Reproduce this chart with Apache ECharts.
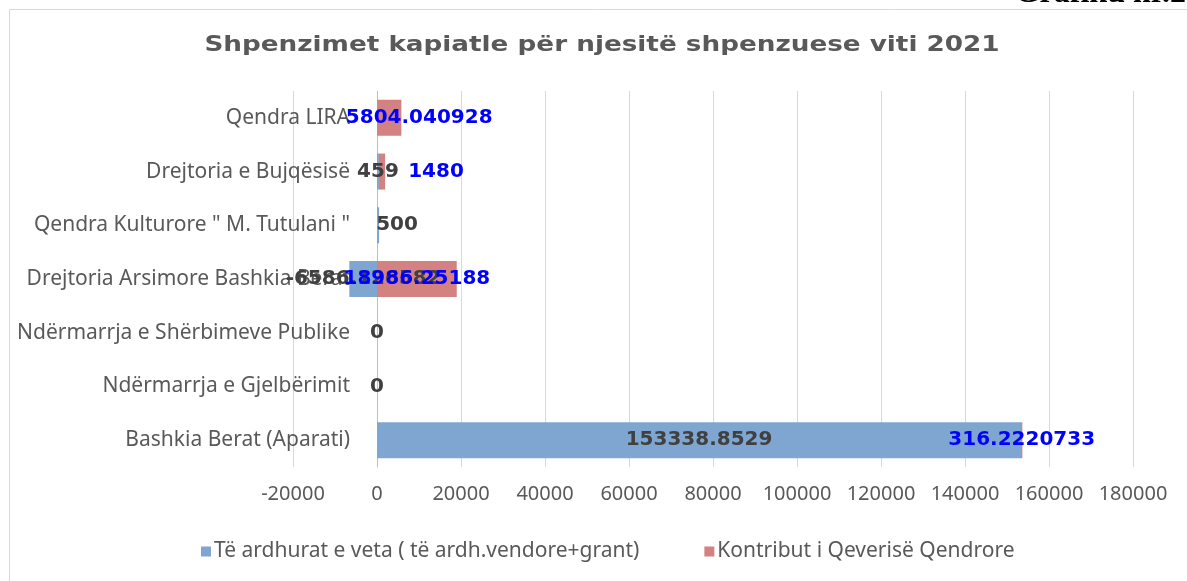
<!DOCTYPE html>
<html>
<head>
<meta charset="utf-8">
<script src="https://cdn.jsdelivr.net/npm/echarts@6/dist/echarts.min.js"></script>
<style>
  html, body { margin: 0; padding: 0; background: #fff; }
  #chart { width: 1187px; height: 581px; }
</style>
</head>
<body>
<div id="chart"></div>
<script>
// kategorite, nga poshte lart
var categories = [
    'Bashkia Berat (Aparati)',
    'Ndërmarrja e Gjelbërimit',
    'Ndërmarrja e Shërbimeve Publike',
    'Drejtoria Arsimore Bashkia Berat',
    'Qendra Kulturore " M. Tutulani "',
    'Drejtoria e Bujqësisë',
    'Qendra LIRA'
];
var seriesNames = ['Të ardhurat e veta ( të ardh.vendore+grant)', 'Kontribut i Qeverisë Qendrore'];
var teArdhurat = [153338.8529, 0, 0, -6586.126582, 500, 459, null];
var kontribut = [316.2220733, null, null, 18986.25188, null, 1480, 5804.040928];
var xTicks = { min: -20000, max: 180000, interval: 20000 };
var titleText = 'Shpenzimet kapiatle për njesitë shpenzuese viti 2021';

var chart = echarts.init(document.getElementById('chart'));

var catFont = 'Noto Sans';
var numFont = 'DejaVu Sans';
var gridLeft = 293, gridRight = 54;
var plotW = 1187 - gridLeft - gridRight;
// boshti i kategorive qendron te vlera 0
var zeroShift = plotW * (0 - xTicks.min) / (xTicks.max - xTicks.min);

// disa etiketa jane zhvendosur me dore ne origjinal (indeksi i kategorise -> px)
var blueLabelShift = { 4: 19 };
var redLabelShift = { 5: 54, 6: 30 };

function numLabel(p) { return p.value == null ? '' : String(p.value); }
function withShift(values, shifts) {
    return values.map(function (v, i) {
        return shifts[i] ? { value: v, label: { offset: [shifts[i], 0] } } : v;
    });
}

var option = {
    backgroundColor: '#fff',
    animation: false,
    graphic: [
        { type: 'rect', shape: { x: 9.5, y: 9.5, width: 1185, height: 600 },
          style: { fill: 'none', stroke: '#d9d9d9', lineWidth: 1 }, silent: true },
        // titulli i faqes, i prere nga lart si ne origjinal
        { type: 'text', x: 1186, y: 10,
          style: { text: 'Grafiku nr.2', font: 'bold 32px "Liberation Serif"', fill: '#000',
                   textAlign: 'right', textVerticalAlign: 'bottom' } },
        { type: 'text', x: 602, y: 46, scaleX: 1.25,
          style: { text: titleText, font: 'bold 21px "DejaVu Sans"', fill: '#595959',
                   textAlign: 'center', textVerticalAlign: 'middle' } }
    ],
    legend: {
        bottom: 14,
        left: 196,
        itemGap: 65,
        icon: 'rect',
        itemWidth: 10,
        itemHeight: 10,
        textStyle: { fontFamily: catFont, fontSize: 21, color: '#595959', padding: [0, 0, 0, -2] }
    },
    grid: { left: gridLeft, right: gridRight, top: 91, bottom: 114, outerBoundsMode: 'none' },
    xAxis: {
        type: 'value',
        min: xTicks.min,
        max: xTicks.max,
        interval: xTicks.interval,
        axisLine: { show: false },
        axisTick: { show: false },
        axisLabel: {
            margin: 17, fontFamily: catFont, fontSize: 20, color: '#595959',
            formatter: function (v) { return String(v); }
        },
        splitLine: { lineStyle: { color: '#d9d9d9', width: 1 } }
    },
    yAxis: {
        type: 'category',
        data: categories,
        offset: -zeroShift,
        axisLine: { onZero: false, lineStyle: { color: '#bfbfbf', width: 1 } },
        axisTick: { show: false },
        axisLabel: { margin: 27, fontFamily: catFont, fontSize: 21, color: '#595959' }
    },
    series: [
        {
            name: seriesNames[0],
            type: 'bar',
            stack: 'total',
            barCategoryGap: '33%',
            itemStyle: { color: '#7fa6d0' },
            label: {
                show: true, position: 'inside', formatter: numLabel,
                fontFamily: numFont, fontWeight: 'bold', fontSize: 20, color: '#404040'
            },
            data: withShift(teArdhurat, blueLabelShift)
        },
        {
            name: seriesNames[1],
            type: 'bar',
            stack: 'total',
            barCategoryGap: '33%',
            itemStyle: { color: '#d48281' },
            label: {
                show: true, position: 'inside', formatter: numLabel,
                fontFamily: numFont, fontWeight: 'bold', fontSize: 20, color: '#0000ff'
            },
            data: withShift(kontribut, redLabelShift)
        }
    ]
};
chart.setOption(option);
</script>
</body>
</html>
